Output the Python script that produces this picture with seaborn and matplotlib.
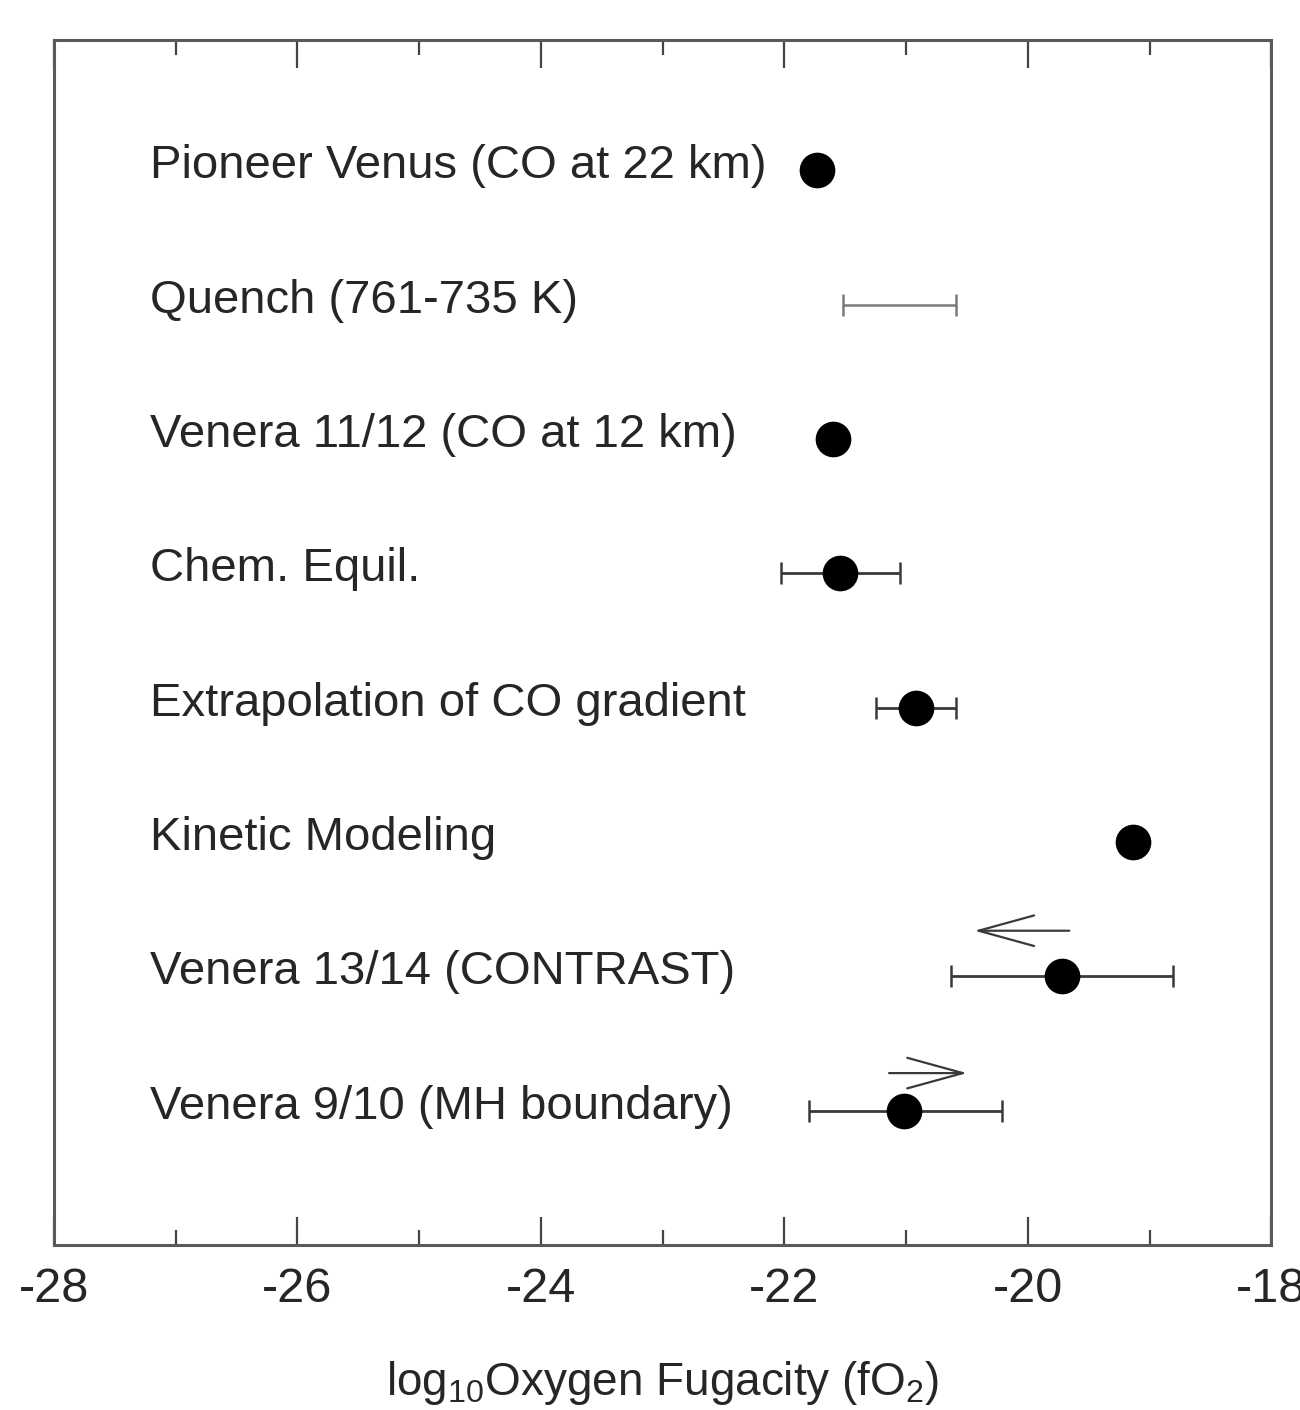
import numpy as np
import pandas as pd
import matplotlib
matplotlib.use("Agg")
import matplotlib.pyplot as plt
import seaborn as sns

# ---- data ----
labels = ["Pioneer Venus (CO at 22 km)", "Quench (761-735 K)", "Venera 11/12 (CO at 12 km)",
          "Chem. Equil.", "Extrapolation of CO gradient", "Kinetic Modeling",
          "Venera 13/14 (CONTRAST)", "Venera 9/10 (MH boundary)"]
rows = [1, 2, 3, 4, 5, 6, 7, 8]
values = [-21.73, np.nan, -21.60, -21.54, -20.92, -19.14, -19.72, -21.02]
err_low = [np.nan, -21.52, np.nan, -22.03, -21.25, np.nan, -20.63, -21.80]
err_high = [np.nan, -20.59, np.nan, -21.05, -20.59, np.nan, -18.81, -20.21]
# arrows: (row position y, x start, x end)
arrow_rows = [6.66, 7.72]
arrow_start = [-19.66, -21.14]
arrow_end = [-20.44, -20.50]
xticks = [-28, -26, -24, -22, -20, -18]

sns.set_theme(style="ticks")
plt.rcParams["font.family"] = ["Liberation Sans", "DejaVu Sans"]
plt.rcParams["mathtext.fontset"] = "custom"
plt.rcParams["mathtext.rm"] = "Liberation Sans"
plt.rcParams["mathtext.it"] = "Liberation Sans:italic"

df = pd.DataFrame({"label": labels, "row": rows, "value": values,
                   "lo": err_low, "hi": err_high})

fig = plt.figure(figsize=(13, 14.1), dpi=100)
ax = fig.add_axes([0.0415, 0.117, 0.9365, 0.8545])

txtc = "#262626"

# error bars
eb = df.dropna(subset=["lo"])
for _, r in eb.iterrows():
    center = r["value"] if not np.isnan(r["value"]) else (r["lo"] + r["hi"]) / 2
    is_q = np.isnan(r["value"])
    ax.errorbar([center], [r["row"]],
                xerr=[[center - r["lo"]], [r["hi"] - center]],
                fmt="none", ecolor="#7a7a7a" if is_q else "#3a3a3a",
                elinewidth=1.8 if is_q else 2.0, capsize=8, capthick=1.8, zorder=2)

# points
pts = df.dropna(subset=["value"])
sns.scatterplot(data=pts, x="value", y="row", ax=ax, color="black", s=660,
                edgecolor="black", linewidth=0, zorder=3, legend=False)

# arrows
for yy, xs, xe in zip(arrow_rows, arrow_start, arrow_end):
    ax.annotate("", xy=(xe, yy), xytext=(xs, yy),
                arrowprops=dict(arrowstyle="->,head_length=2.0,head_width=0.55",
                                mutation_scale=20, color="#3a3a3a", lw=1.6,
                                shrinkA=0, shrinkB=0))

# labels
for _, r in df.iterrows():
    ax.text(-27.21, r["row"] - 0.03, r["label"], fontsize=34, color=txtc,
            ha="left", va="center")

ax.set_xlim(-28, -18)
ax.set_ylim(9.0, 0.03)
ax.set_xticks(xticks)
ax.set_xticklabels([str(t) for t in xticks])
ax.set_xticks(np.arange(-27, -18, 2), minor=True)
ax.set_yticks([])
ax.set_xlabel("log$_{10}$Oxygen Fugacity (fO$_2$)", fontsize=33, color=txtc, labelpad=34)
ax.set_ylabel("")
ax.tick_params(axis="x", which="major", direction="in", top=True, length=20, width=1.6,
               colors="#444444", labelsize=35, labelcolor=txtc, pad=16)
ax.tick_params(axis="x", which="minor", direction="in", top=True, length=11, width=1.6,
               colors="#444444")
for s in ax.spines.values():
    s.set_visible(True)
    s.set_color("#5a5a5a")
    s.set_linewidth(2.2)

fig.savefig("out.png", dpi=100, facecolor="white")
